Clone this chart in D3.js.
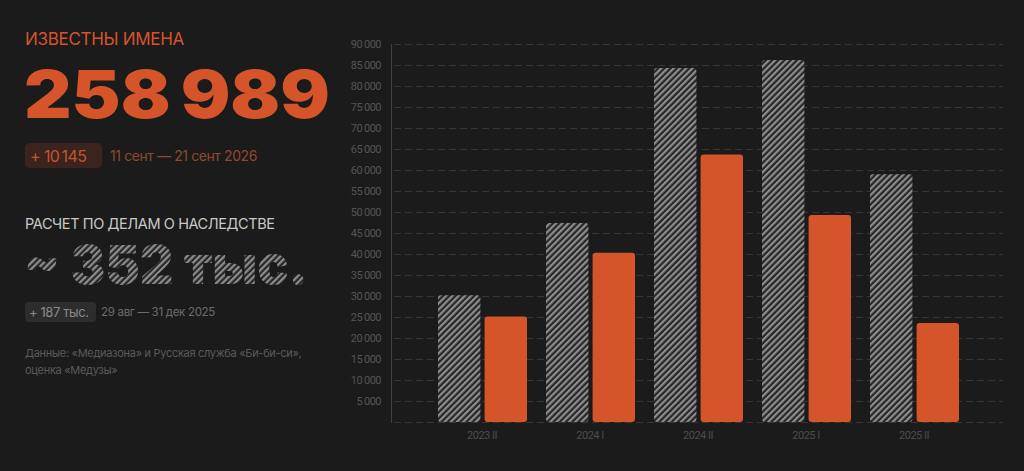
<!DOCTYPE html>
<html><head><meta charset="utf-8">
<script src="https://cdn.jsdelivr.net/npm/d3@7/dist/d3.min.js"></script>
<style>
html,body{margin:0;padding:0;background:#1b1b1b;}
svg{display:block;}
</style></head>
<body>
<svg id="c" width="1024" height="471"></svg>
<script>
const categories = ["2023 II", "2024 I", "2024 II", "2025 I", "2025 II"];
const estimateValues = [30200, 47400, 84300, 86200, 59000];
const knownValues = [25100, 40300, 63700, 49300, 23600];
const yTicks = [5000,10000,15000,20000,25000,30000,35000,40000,45000,50000,55000,60000,65000,70000,75000,80000,85000,90000];

const ORANGE = "#d6542a";
const svg = d3.select("#c");
svg.append("rect").attr("width",1024).attr("height",471).attr("fill","#1b1b1b");

const defs = svg.append("defs");
const pat = defs.append("pattern").attr("id","hatch").attr("patternUnits","userSpaceOnUse")
  .attr("width",4.4).attr("height",4.4).attr("patternTransform","rotate(45)");
pat.append("rect").attr("width",4.4).attr("height",4.4).attr("fill","#262626");
pat.append("rect").attr("width",2.2).attr("height",4.4).attr("fill","#8e8e8e");

// Left panel
const L = svg.append("g");
L.append("text").attr("x",25).attr("y",45).attr("fill",ORANGE)
  .attr("font-family","Inter, 'Noto Sans', sans-serif").attr("font-size",17).attr("letter-spacing",-0.3)
  .text("ИЗВЕСТНЫ ИМЕНА");
L.append("text").attr("x",24).attr("y",118).attr("fill",ORANGE)
  .attr("font-family","Inter, sans-serif").attr("font-weight",900).attr("font-size",66)
  .attr("textLength",306).attr("lengthAdjust","spacingAndGlyphs")
  .text("258\u2009989");

L.append("rect").attr("x",25).attr("y",143).attr("width",77).attr("height",25).attr("rx",5).attr("fill","#3b241d");
L.append("text").attr("x",30).attr("y",161.5).attr("fill","#c25530")
  .attr("font-family","Inter, sans-serif").attr("font-size",16).attr("letter-spacing",-0.6).text("+ 10\u2009145");
L.append("text").attr("x",110).attr("y",161).attr("fill","#8c4a31")
  .attr("font-family","Inter, sans-serif").attr("font-size",14).attr("letter-spacing",-0.4).text("11 сент — 21 сент 2026");

L.append("text").attr("x",25).attr("y",229).attr("fill","#c9c9c9")
  .attr("font-family","Inter, sans-serif").attr("font-size",14.5).attr("letter-spacing",-0.4).text("РАСЧЕТ ПО ДЕЛАМ О НАСЛЕДСТВЕ");
L.append("text").attr("x",24).attr("y",284).attr("fill","url(#hatch)")
  .attr("font-family","Inter, sans-serif").attr("font-weight",900).attr("font-size",54)
  .attr("textLength",284).attr("lengthAdjust","spacingAndGlyphs")
  .text("~ 352 тыс.");

L.append("rect").attr("x",25).attr("y",302).attr("width",71).attr("height",20).attr("rx",4).attr("fill","#2d2d2d");
L.append("text").attr("x",29).attr("y",316.5).attr("fill","#8a8a8a")
  .attr("font-family","Inter, sans-serif").attr("font-size",13).attr("letter-spacing",-0.4).text("+ 187 тыс.");
L.append("text").attr("x",101).attr("y",316).attr("fill","#6c6c6c")
  .attr("font-family","Inter, sans-serif").attr("font-size",11.5).attr("letter-spacing",-0.3).text("29 авг — 31 дек 2025");
L.append("text").attr("x",25).attr("y",357).attr("fill","#5a5a5a")
  .attr("font-family","Inter, sans-serif").attr("font-size",11).attr("letter-spacing",-0.3).text("Данные: «Медиазона» и Русская служба «Би-би-си»,");
L.append("text").attr("x",25).attr("y",374).attr("fill","#5a5a5a")
  .attr("font-family","Inter, sans-serif").attr("font-size",11).attr("letter-spacing",-0.3).text("оценка «Медузы»");

// Chart
const axisX = 391, gridRight = 1003;
const y = d3.scaleLinear().domain([0,90000]).range([422,44]);
const x = d3.scaleBand().domain(categories).range([428,968]).paddingInner(0).paddingOuter(0);
const inner = d3.scaleBand().domain(["est","known"]).range([10,99]).paddingInner(0.09);

const grid = svg.append("g");
grid.selectAll("line.g").data([0].concat(yTicks)).join("line")
  .attr("x1",axisX+3).attr("x2",gridRight).attr("y1",d=>y(d)+0.5).attr("y2",d=>y(d)+0.5)
  .attr("stroke","#363636").attr("stroke-width",1).attr("stroke-dasharray","7,4");
svg.append("line").attr("x1",axisX+0.5).attr("x2",axisX+0.5).attr("y1",y(90000)).attr("y2",y(0)+1)
  .attr("stroke","#404040").attr("stroke-width",1);

const yAxis = d3.axisLeft(y).tickValues(yTicks).tickSize(0).tickPadding(0)
  .tickFormat(d=>d3.format(",")(d).replace(/,/g,"\u2009"));
const ya = svg.append("g").attr("transform",`translate(381,0)`).call(yAxis);
ya.select(".domain").remove();
ya.selectAll("text").attr("fill","#555").attr("font-family","Roboto, sans-serif").attr("font-size",11).attr("letter-spacing",-0.5);

const xAxis = d3.axisBottom(x).tickSize(0).tickPadding(0);
const xa = svg.append("g").attr("transform",`translate(0,431)`).call(xAxis);
xa.select(".domain").remove();
xa.selectAll("text").attr("fill","#4c4c4c").attr("font-family","Roboto, sans-serif").attr("font-size",11).attr("letter-spacing",-0.5);

const bars = svg.append("g");
bars.selectAll("path.est").data(categories).join("path").attr("class","est")
  .attr("d",(c,i)=>roundTop(x(c)+inner("est"), y(estimateValues[i]), inner.bandwidth(), y(0)-y(estimateValues[i]), 3))
  .attr("fill","url(#hatch)");
bars.selectAll("path.kn").data(categories).join("path").attr("class","kn")
  .attr("d",(c,i)=>roundTop(x(c)+inner("known"), y(knownValues[i]), inner.bandwidth(), y(0)-y(knownValues[i]), 3))
  .attr("fill",ORANGE);

function roundTop(x0,y0,w,h,r){
  const p=d3.path();
  p.moveTo(x0+r,y0); p.lineTo(x0+w-r,y0); p.arcTo(x0+w,y0,x0+w,y0+r,r);
  p.lineTo(x0+w,y0+h-r); p.arcTo(x0+w,y0+h,x0+w-r,y0+h,r);
  p.lineTo(x0+r,y0+h); p.arcTo(x0,y0+h,x0,y0+h-r,r);
  p.lineTo(x0,y0+r); p.arcTo(x0,y0,x0+r,y0,r); p.closePath();
  return p.toString();
}
</script>
</body></html>
